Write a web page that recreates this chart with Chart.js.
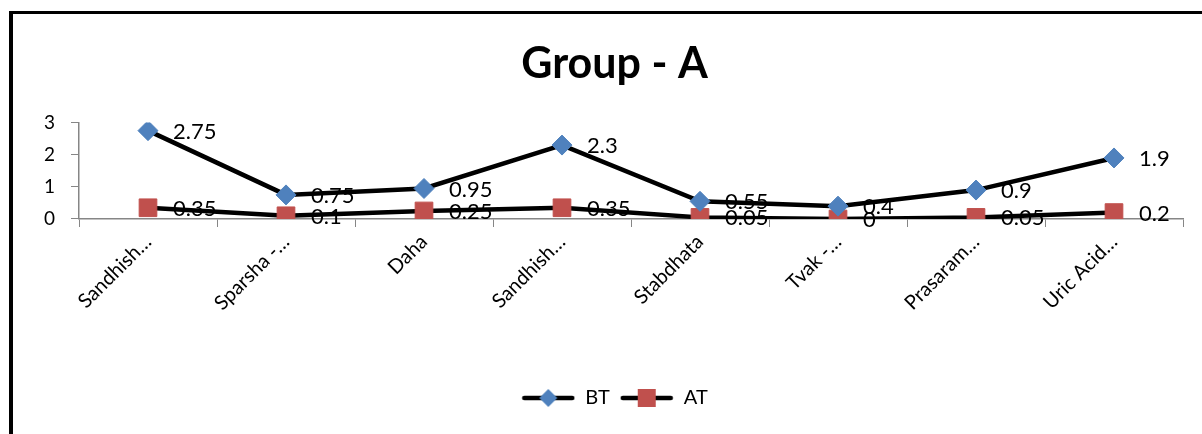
<!DOCTYPE html>
<html>
<head>
<meta charset="utf-8">
<script src="https://cdn.jsdelivr.net/npm/chart.js@4.4.1/dist/chart.umd.min.js"></script>
<style>
  html, body { margin: 0; padding: 0; background: #fff; }
  #wrap { position: relative; width: 1202px; height: 434px; }
  #frame {
    position: absolute; left: 9px; top: 11px; right: -10px; bottom: -10px;
    border-left: 4px solid #000; border-top: 3px solid #000;
  }
  canvas { position: absolute; left: 0; top: 0; }
</style>
</head>
<body>
<div id="wrap">
  <div id="frame"></div>
  <canvas id="groupChart" width="1202" height="434"></canvas>
</div>
<script>
const categories = ["Sandhish…", "Sparsha -…", "Daha", "Sandhish…", "Stabdhata", "Tvak -…", "Prasaram…", "Uric Acid…"];
const btValues = [2.75, 0.75, 0.95, 2.3, 0.55, 0.4, 0.9, 1.9];
const atValues = [0.35, 0.1, 0.25, 0.35, 0.05, 0, 0.05, 0.2];
const yTicks = [0, 1, 2, 3];

const fontName = "Lato, 'Open Sans', sans-serif";
const blue = "#4F81BD";
const red = "#C0504D";

// legend sample: black line with the marker on top
function legendIcon(type, color) {
  const c = document.createElement("canvas");
  c.width = 54;
  c.height = 20;
  const g = c.getContext("2d");
  g.strokeStyle = "#000";
  g.lineWidth = 4.5;
  g.lineCap = "round";
  g.beginPath();
  g.moveTo(3, 10);
  g.lineTo(51, 10);
  g.stroke();
  g.fillStyle = color;
  g.beginPath();
  if (type === "diamond") {
    g.moveTo(27, 1);
    g.lineTo(36, 10);
    g.lineTo(27, 19);
    g.lineTo(18, 10);
    g.closePath();
  } else {
    g.rect(18, 1, 18, 18);
  }
  g.fill();
  return c;
}

// value labels to the right of each point, drawn under the lines
const valueLabels = {
  id: "valueLabels",
  beforeDatasetsDraw(chart) {
    const ctx = chart.ctx;
    ctx.save();
    ctx.font = "22px " + fontName;
    ctx.fillStyle = "#000";
    ctx.textBaseline = "middle";
    ctx.textAlign = "left";
    chart.data.datasets.forEach((ds, i) => {
      chart.getDatasetMeta(i).data.forEach((pt, j) => {
        ctx.fillText(String(ds.data[j]), pt.x + 25, pt.y + 1);
      });
    });
    ctx.restore();
  }
};

const ctx = document.getElementById("groupChart").getContext("2d");
new Chart(ctx, {
  type: "line",
  data: {
    labels: categories,
    datasets: [
      {
        label: "BT",
        data: btValues,
        borderColor: "#000",
        borderWidth: 4.5,
        tension: 0,
        pointStyle: "rectRot",
        pointRadius: 10,
        pointHoverRadius: 10,
        pointBackgroundColor: blue,
        pointBorderColor: blue,
        pointBorderWidth: 1
      },
      {
        label: "AT",
        data: atValues,
        borderColor: "#000",
        borderWidth: 4.5,
        tension: 0,
        pointStyle: "rect",
        pointRadius: 12.5,
        pointHoverRadius: 12.5,
        pointBackgroundColor: red,
        pointBorderColor: red,
        pointBorderWidth: 1
      }
    ]
  },
  options: {
    responsive: false,
    animation: false,
    layout: { padding: { left: 27, top: 14, right: 0, bottom: 16 } },
    plugins: {
      title: {
        display: true,
        text: "Group - A",
        color: "#000",
        font: { family: fontName, size: 43, weight: "bold" },
        padding: { top: 24, bottom: 33 }
      },
      legend: {
        position: "bottom",
        labels: {
          usePointStyle: true,
          pointStyleWidth: 54,
          color: "#000",
          font: { family: fontName, size: 20 },
          generateLabels(chart) {
            return [
              { text: "BT", pointStyle: legendIcon("diamond", blue), fontColor: "#000", lineWidth: 0, strokeStyle: "transparent", datasetIndex: 0 },
              { text: "AT", pointStyle: legendIcon("square", red), fontColor: "#000", lineWidth: 0, strokeStyle: "transparent", datasetIndex: 1 }
            ];
          }
        }
      },
      tooltip: { enabled: false }
    },
    scales: {
      x: {
        offset: true,
        grid: { offset: true, drawOnChartArea: false, drawTicks: true, tickLength: 8, color: "#868686" },
        border: { color: "#868686", width: 1.5 },
        ticks: {
          color: "#000",
          font: { family: fontName, size: 20 },
          minRotation: 45,
          maxRotation: 45,
          autoSkip: false,
          padding: 3
        },
        afterFit(scale) { scale.height = 159; }
      },
      y: {
        min: 0,
        max: 3,
        afterBuildTicks(scale) { scale.ticks = yTicks.map(v => ({ value: v })); },
        grid: { drawOnChartArea: false, drawTicks: true, tickLength: 8, color: "#868686" },
        border: { color: "#868686", width: 1.5 },
        ticks: {
          color: "#000",
          font: { family: fontName, size: 19 },
          padding: 16
        },
        afterFit(scale) { scale.width = 52; }
      },
      // empty right-hand axis, only keeps the plot's right edge where the original has it
      yRight: {
        position: "right",
        min: 0,
        max: 3,
        grid: { display: false },
        border: { display: false },
        ticks: { display: false },
        afterFit(scale) { scale.width = 19; }
      }
    }
  },
  plugins: [valueLabels]
});
</script>
</body>
</html>
